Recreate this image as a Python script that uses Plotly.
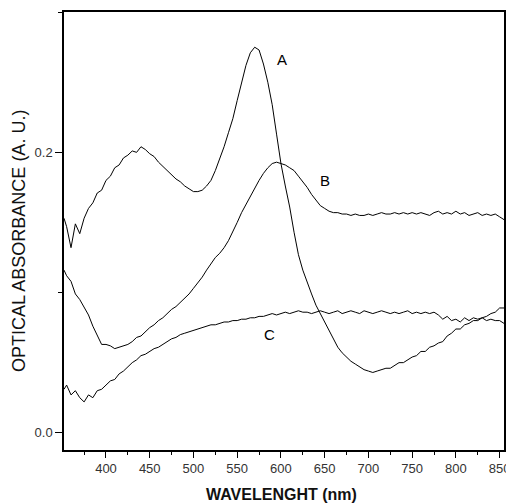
import plotly.graph_objects as go

# wavelength grid (nm)
wavelength = [352] + list(range(355, 856, 5))

curve_A = [
    0.153, 0.147, 0.132, 0.149, 0.142, 0.153, 0.160, 0.164, 0.171, 0.173,
    0.180, 0.183, 0.189, 0.191, 0.196, 0.198, 0.201, 0.200, 0.204, 0.202,
    0.199, 0.197, 0.193, 0.190, 0.187, 0.184, 0.181, 0.179, 0.176, 0.174,
    0.172, 0.172, 0.173, 0.176, 0.180, 0.187, 0.195, 0.204, 0.214, 0.224,
    0.237, 0.250, 0.262, 0.271, 0.275, 0.273, 0.263, 0.250, 0.234, 0.213,
    0.192, 0.176, 0.161, 0.143, 0.127, 0.116, 0.107, 0.099, 0.091, 0.085,
    0.079, 0.072, 0.066, 0.061, 0.057, 0.054, 0.051, 0.049, 0.047, 0.045,
    0.044, 0.043, 0.044, 0.045, 0.046, 0.046, 0.048, 0.050, 0.050, 0.052,
    0.054, 0.055, 0.058, 0.058, 0.061, 0.062, 0.064, 0.065, 0.069, 0.071,
    0.074, 0.074, 0.077, 0.078, 0.080, 0.080, 0.082, 0.083, 0.085, 0.086,
    0.089, 0.089,
]

curve_B = [
    0.116, 0.112, 0.108, 0.099, 0.095, 0.089, 0.084, 0.076, 0.069, 0.063,
    0.063, 0.062, 0.060, 0.061, 0.062, 0.063, 0.065, 0.068, 0.069, 0.072,
    0.075, 0.077, 0.080, 0.082, 0.085, 0.088, 0.090, 0.093, 0.096, 0.099,
    0.103, 0.107, 0.111, 0.116, 0.121, 0.125, 0.128, 0.132, 0.137, 0.143,
    0.150, 0.157, 0.163, 0.169, 0.175, 0.180, 0.185, 0.189, 0.192, 0.193,
    0.192, 0.191, 0.189, 0.187, 0.183, 0.179, 0.175, 0.170, 0.166, 0.162,
    0.160, 0.158, 0.157, 0.157, 0.156, 0.156, 0.155, 0.156, 0.155, 0.155,
    0.156, 0.155, 0.156, 0.157, 0.156, 0.156, 0.157, 0.156, 0.157, 0.156,
    0.157, 0.156, 0.157, 0.156, 0.155, 0.157, 0.158, 0.156, 0.157, 0.156,
    0.158, 0.156, 0.157, 0.155, 0.156, 0.157, 0.155, 0.156, 0.155, 0.156,
    0.154, 0.152,
]

curve_C = [
    0.031, 0.034, 0.027, 0.030, 0.025, 0.022, 0.027, 0.025, 0.030, 0.031,
    0.034, 0.037, 0.038, 0.042, 0.044, 0.047, 0.050, 0.052, 0.055, 0.056,
    0.058, 0.060, 0.061, 0.063, 0.065, 0.067, 0.068, 0.070, 0.071, 0.072,
    0.073, 0.074, 0.075, 0.076, 0.077, 0.077, 0.078, 0.079, 0.079, 0.080,
    0.080, 0.081, 0.081, 0.082, 0.082, 0.083, 0.083, 0.084, 0.085, 0.084,
    0.085, 0.086, 0.085, 0.086, 0.087, 0.086, 0.086, 0.085, 0.086, 0.087,
    0.086, 0.085, 0.086, 0.087, 0.085, 0.086, 0.087, 0.086, 0.085, 0.087,
    0.086, 0.085, 0.086, 0.087, 0.086, 0.085, 0.086, 0.085, 0.086, 0.087,
    0.085, 0.086, 0.085, 0.086, 0.085, 0.086, 0.084, 0.081, 0.083, 0.080,
    0.081, 0.079, 0.082, 0.080, 0.082, 0.081, 0.082, 0.080, 0.081, 0.080,
    0.080, 0.078,
]

series = {"A": curve_A, "B": curve_B, "C": curve_C}
label_pos = {"A": (601.7, 0.2659), "B": (650.9, 0.1798), "C": (586.9, 0.0698)}

x_ticks = [400, 450, 500, 550, 600, 650, 700, 750, 800, 850]
y_ticks = [0.0, 0.2]
y_tick_text = ["0.0", "0.2"]

FONT = "Liberation Sans, Arial, Helvetica, sans-serif"

fig = go.Figure()
for name, vals in series.items():
    fig.add_trace(go.Scatter(x=wavelength, y=vals, mode="lines", name=name,
                             line=dict(color="black", width=1), showlegend=False))

annotations = []
for name, (lx, ly) in label_pos.items():
    annotations.append(dict(x=lx, y=ly, xref="x", yref="y", text=name, showarrow=False,
                            font=dict(family=FONT, size=15, color="black"),
                            xanchor="center", yanchor="middle"))
annotations.append(dict(x=-0.1034, y=0.476, xref="paper", yref="paper",
                        text="OPTICAL ABSORBANCE (A. U.)", textangle=-90, showarrow=False,
                        font=dict(family=FONT, size=18, color="#111"),
                        xanchor="center", yanchor="middle"))
annotations.append(dict(x=601, y=-0.1005, xref="x", yref="paper",
                        text="<b>WAVELENGHT (nm)</b>", showarrow=False,
                        font=dict(family=FONT, size=16, color="#111"),
                        xanchor="center", yanchor="middle"))

fig.update_layout(
    width=506, height=503,
    margin=dict(l=64, r=2, t=12, b=53, autoexpand=False),
    paper_bgcolor="white", plot_bgcolor="white",
    annotations=annotations,
    font=dict(family=FONT),
)
fig.update_xaxes(
    range=[352, 855], showgrid=False, zeroline=False,
    showline=True, linecolor="black", linewidth=1.5, mirror=True,
    tickmode="array", tickvals=x_ticks, ticktext=[str(v) for v in x_ticks],
    ticks="outside", ticklen=6, tickwidth=1, tickcolor="black",
    ticklabeloverflow="allow",
    tickfont=dict(family=FONT, size=13, color="#333"),
    minor=dict(tickmode="array", tickvals=[375, 425, 475, 525, 575, 625, 675, 725, 775, 825],
               ticks="outside", ticklen=3, tickwidth=1, tickcolor="black", showgrid=False),
)
fig.update_yaxes(
    range=[-0.0123, 0.3001], showgrid=False, zeroline=False,
    showline=True, linecolor="black", linewidth=1.5, mirror=True,
    tickmode="array", tickvals=y_ticks, ticktext=y_tick_text,
    ticks="outside", ticklen=7, tickwidth=1, tickcolor="black",
    tickfont=dict(family=FONT, size=13, color="#333"),
    minor=dict(tickmode="array", tickvals=[0.1, 0.3],
               ticks="outside", ticklen=4, tickwidth=1, tickcolor="black", showgrid=False),
)

fig.write_html(
    "out.html",
    config={"displayModeBar": False},
    post_script="document.body.style.margin='0';document.body.style.padding='0';"
                "document.documentElement.style.overflow='hidden';",
)
